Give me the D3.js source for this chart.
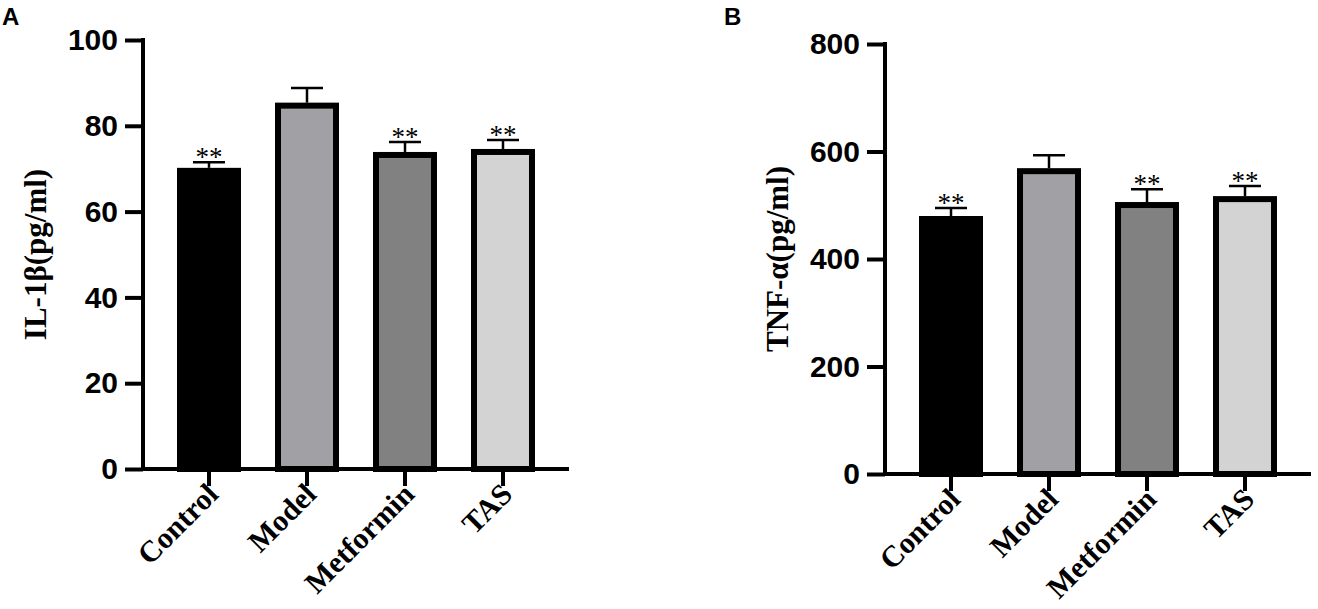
<!DOCTYPE html>
<html>
<head>
<meta charset="utf-8">
<script src="https://cdn.jsdelivr.net/npm/d3@7"></script>
<style>
  html, body { margin: 0; padding: 0; background: #fff; }
  svg { display: block; }
</style>
</head>
<body>
<svg id="chart" width="1318" height="609"></svg>
<script>
// ---- data ----
const categories = ["Control", "Model", "Metformin", "TAS"];
const il1bMean = [70.2, 85.4, 73.9, 74.6];
const il1bSem = [1.3, 3.4, 2.3, 2.1];
const tnfMean = [480, 569, 506, 517];
const tnfSem = [15, 24, 24, 19];
const significance = ["**", "", "**", "**"];
const il1bTicks = [0, 20, 40, 60, 80, 100];
const tnfTicks = [0, 200, 400, 600, 800];
const barColors = ["#000000", "#a1a1a5", "#818181", "#d3d3d3"];

const svg = d3.select("#chart");

function drawPanel(opt) {
  const g = svg.append("g");
  const y = d3.scaleLinear().domain(opt.yDomain).range([opt.y0, opt.y1]);
  const x = d3.scaleBand().domain(categories).range([opt.xAxis, opt.xEnd]).padding(0.347);
  const sw = 6;
  const axisW = 4;

  // bars
  categories.forEach((c, i) => {
    const v = opt.mean[i];
    const bx = x(c), bw = x.bandwidth();
    const top = y(v);
    const err = y(v + opt.sem[i]);
    const cx = bx + bw / 2;
    // error bar (upper only)
    g.append("line").attr("x1", cx).attr("x2", cx).attr("y1", top).attr("y2", err)
      .attr("stroke", "#000").attr("stroke-width", 2.5);
    g.append("line").attr("x1", cx - 16).attr("x2", cx + 16).attr("y1", err).attr("y2", err)
      .attr("stroke", "#000").attr("stroke-width", 2.5);
    g.append("rect")
      .attr("x", bx + sw / 2).attr("y", top + sw / 2)
      .attr("width", bw - sw).attr("height", y(0) - top - sw / 2)
      .attr("fill", barColors[i]).attr("stroke", "#000").attr("stroke-width", sw);
    if (significance[i]) {
      g.append("text").attr("x", cx).attr("y", err + 4)
        .attr("text-anchor", "middle")
        .attr("font-family", "'Liberation Serif', 'Times New Roman', serif")
        .attr("font-size", 27)
        .text(significance[i]);
    }
  });

  // y axis
  const yAxis = d3.axisLeft(y).tickValues(opt.ticks).tickSize(18).tickPadding(7).tickFormat(d3.format("d"));
  const ya = g.append("g").attr("transform", `translate(${opt.xAxis},0)`).call(yAxis);
  ya.select(".domain").remove();
  ya.selectAll(".tick line").attr("stroke", "#000").attr("stroke-width", axisW);
  ya.selectAll(".tick text")
    .attr("font-family", "'Liberation Sans', Arial, sans-serif")
    .attr("font-weight", "bold").attr("font-size", 30).attr("fill", "#000");
  g.append("line").attr("x1", opt.xAxis).attr("x2", opt.xAxis)
    .attr("y1", y(opt.yDomain[1]) - axisW / 2).attr("y2", y(0) + axisW / 2)
    .attr("stroke", "#000").attr("stroke-width", axisW);

  // x axis
  const xAxis = d3.axisBottom(x).tickSize(17).tickFormat("");
  const xa = g.append("g").attr("transform", `translate(0,${y(0)})`).call(xAxis);
  xa.select(".domain").remove();
  xa.selectAll(".tick line").attr("stroke", "#000").attr("stroke-width", axisW);
  g.append("line").attr("x1", opt.xAxis - axisW / 2).attr("x2", opt.xEnd)
    .attr("y1", y(0)).attr("y2", y(0))
    .attr("stroke", "#000").attr("stroke-width", axisW);

  categories.forEach((c) => {
    const tx = x(c) + x.bandwidth() / 2 + 11;
    const ty = y(0) + 27;
    g.append("text")
      .attr("transform", `translate(${tx},${ty}) rotate(-45)`)
      .attr("text-anchor", "end")
      .attr("font-family", "'Liberation Serif', 'Times New Roman', serif")
      .attr("font-weight", "bold").attr("font-size", 30)
      .text(c);
  });

  // y title
  g.append("text")
    .attr("transform", `translate(${opt.titleX},${(y(0) + y(opt.yDomain[1])) / 2}) rotate(-90)`)
    .attr("text-anchor", "middle")
    .attr("font-family", "'Liberation Serif', 'Times New Roman', serif")
    .attr("font-weight", "bold").attr("font-size", 31)
    .text(opt.title);

  // panel letter
  svg.append("text").attr("x", opt.letterX).attr("y", 25)
    .attr("font-family", "'Liberation Sans', Arial, sans-serif")
    .attr("font-weight", "bold").attr("font-size", 24)
    .text(opt.letter);
}

drawPanel({
  mean: il1bMean, sem: il1bSem, ticks: il1bTicks, yDomain: [0, 100],
  y0: 469, y1: 40, xAxis: 143, xEnd: 569, title: "IL-1β(pg/ml)", titleX: 46,
  letter: "A", letterX: 2
});
drawPanel({
  mean: tnfMean, sem: tnfSem, ticks: tnfTicks, yDomain: [0, 800],
  y0: 474, y1: 44, xAxis: 885, xEnd: 1311, title: "TNF-α(pg/ml)", titleX: 788,
  letter: "B", letterX: 724
});
</script>
</body>
</html>
